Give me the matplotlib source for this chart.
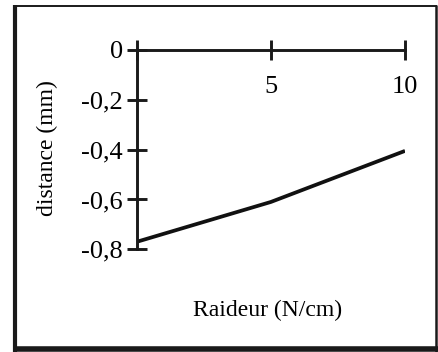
import matplotlib
matplotlib.use("Agg")
import matplotlib.pyplot as plt
from matplotlib.lines import Line2D

# data
raideur = [0, 5, 10]
distance = [-0.77, -0.61, -0.405]
xticks = [0, 5, 10]
xtick_labels = ["", "5", "10"]
yticks = [0, -0.2, -0.4, -0.6, -0.8]
ytick_labels = ["0", "-0,2", "-0,4", "-0,6", "-0,8"]

W, H = 438, 352
plt.rcParams['font.family'] = ['Liberation Serif', 'DejaVu Serif']

fig = plt.figure(figsize=(W / 100, H / 100), dpi=100)
fig.patch.set_facecolor('white')


def px(x, y):
    return x / W, 1 - y / H


# axes placed so that x=0..10 -> px 137..405, y=0..-0.8 -> px 50..249
left, top = px(136.7, 50)
right, bottom = px(405, 249.3)
ax = fig.add_axes([left, bottom, right - left, top - bottom])
ax.set_facecolor('none')

ax.plot(raideur, distance, color='#111111', lw=2.7, solid_capstyle='butt')

ax.set_xlim(0, 10)
ax.set_ylim(-0.8, 0)

ax.spines['top'].set_visible(False)
ax.spines['right'].set_visible(False)
ax.spines['bottom'].set_position(('data', 0))
for s in ('left', 'bottom'):
    ax.spines[s].set_linewidth(2.1)
    ax.spines[s].set_color('#1a1a1a')

ax.set_xticks(xticks)
ax.set_xticklabels(xtick_labels)
ax.set_yticks(yticks)
ax.set_yticklabels(ytick_labels)
ax.tick_params(axis='x', direction='inout', length=14, width=2.1,
               color='#1a1a1a', pad=12, labelsize=19)
ax.tick_params(axis='y', direction='inout', length=14, width=2.1,
               color='#1a1a1a', pad=3, labelsize=19)

fx, fy = px(47, 148)
fig.text(fx, fy, "distance (mm)", rotation=90, ha='center', va='center',
         fontsize=17)
fx, fy = px(268, 310)
fig.text(fx, fy, "Raideur (N/cm)", ha='center', va='center', fontsize=17)

# frame with shadow at left and bottom
def hline(x0, x1, y, lw):
    a, b = px(x0, y)
    c, _ = px(x1, y)
    fig.add_artist(Line2D([a, c], [b, b], transform=fig.transFigure,
                          color='#1a1a1a', lw=lw, solid_capstyle='butt'))


def vline(x, y0, y1, lw):
    a, b = px(x, y0)
    _, d = px(x, y1)
    fig.add_artist(Line2D([a, a], [b, d], transform=fig.transFigure,
                          color='#1a1a1a', lw=lw, solid_capstyle='butt'))


hline(13, 437, 6, 1.4)
vline(436, 5, 352, 1.8)
vline(14.8, 5, 352, 3.0)
hline(13, 438, 349, 4.0)

fig.savefig("out.png", dpi=100)
